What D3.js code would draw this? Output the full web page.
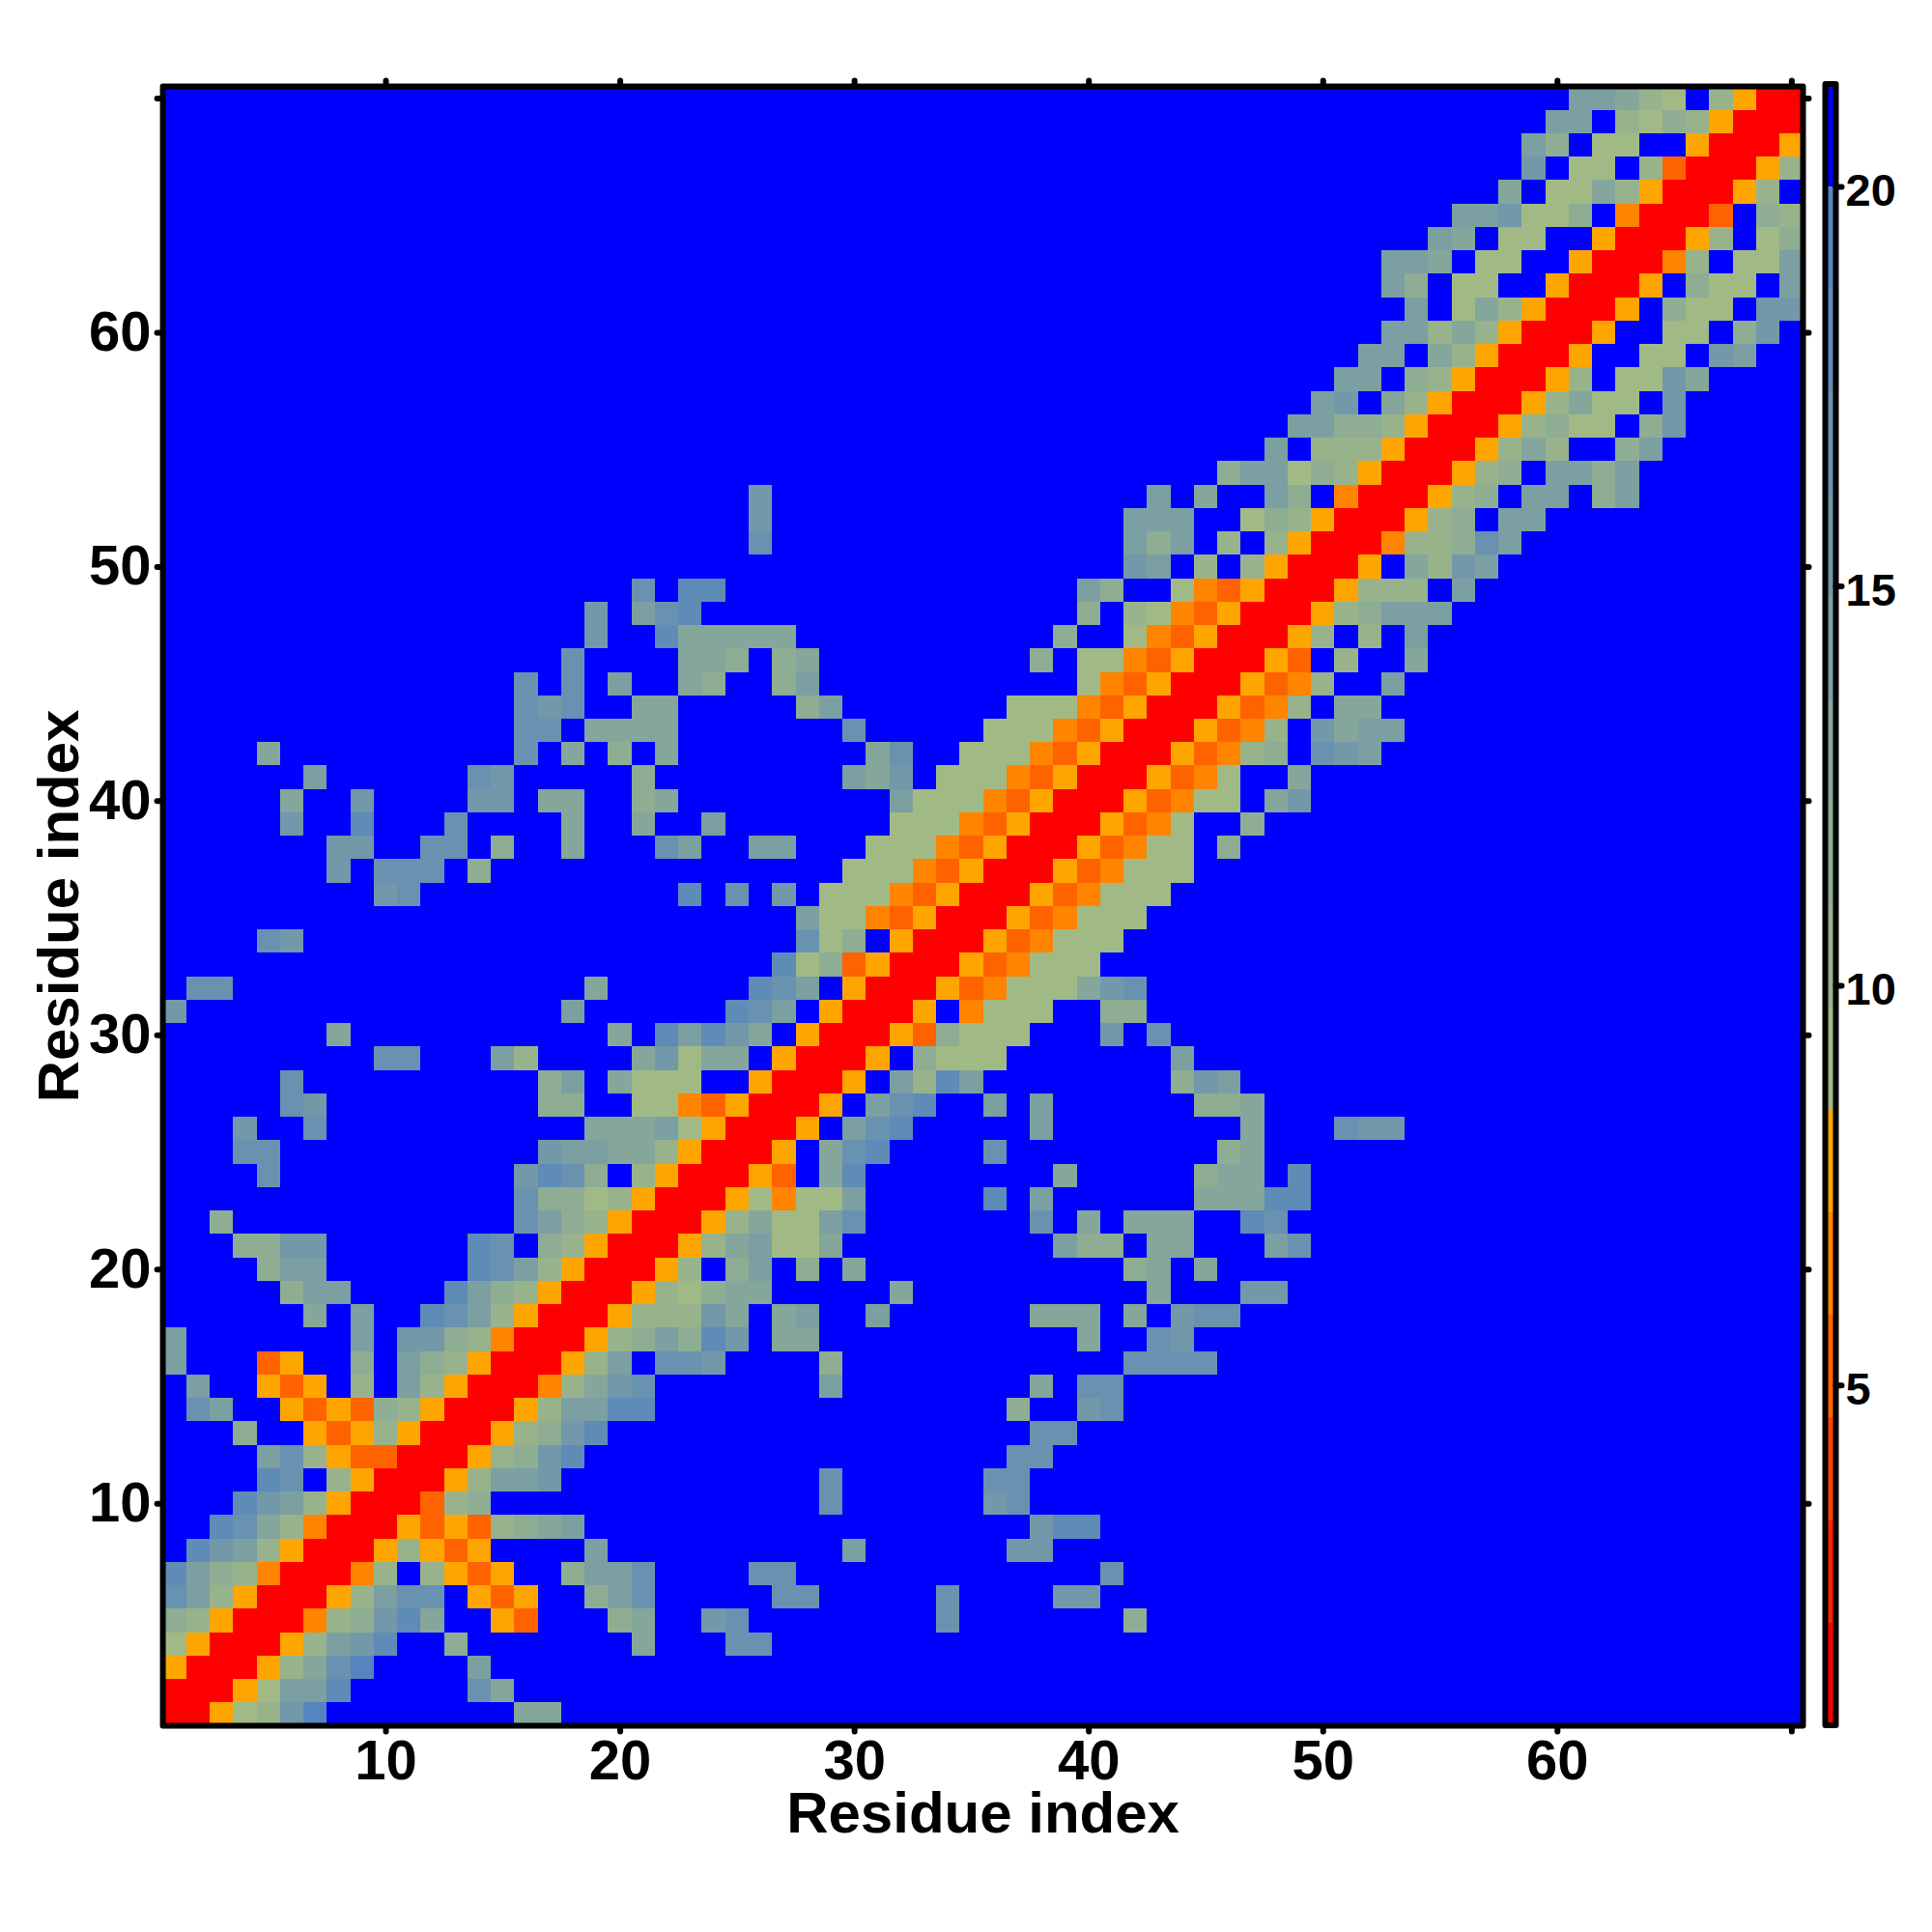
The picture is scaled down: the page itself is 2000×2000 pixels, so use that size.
<!DOCTYPE html>
<html>
<head>
<meta charset="utf-8">
<script src="https://cdn.jsdelivr.net/npm/d3@7"></script>
<style>
html,body{margin:0;padding:0;background:#fff}
svg{display:block}
text{font-family:"Liberation Sans",Arial,sans-serif;font-weight:bold;fill:#000}
</style>
</head>
<body>
<svg id="chart" width="2000" height="2000"></svg>
<script>
// Each row (bottom to top) lists "column:bands"; one hex digit per cell is its colour band
// (0 lowest distance ... e highest shown); any cell not listed is band f, the top band.
const rows01to10 = [
"1:00567be 16:99",
"1:00056aad 14:c9",
"1:5000579ce 14:a",
"1:6500057abd 13:8 21:9 25:cc",
"1:875000478bd9 15:53 20:89 24:bc 34:c 42:8",
"1:ca7500057acc 14:535 19:8ac 27:cc 34:c 39:bb",
"1:da87400047 12:7535 18:8aac 26:cc 41:c",
"2:dba7500057535 19:a 30:a 37:bb",
"3:dc9740005353789a 38:bdd",
"4:dba75000378 29:c 36:bc"
];
const rows11to20 = [
"5:dc 8:7500057aab 29:c 36:cc",
"5:ac7533000578bd 37:cc",
"4:8 7:53575000578bd 38:cc",
"2:ca 6:535387500057aadd 37:8 40:bc",
"2:a 5:535 9:7 11:a75000479bc 29:a 38:9 40:cc",
"1:a 5:35 9:8 11:a87500057a 22:ccb 29:8 42:cccc",
"1:a 9:a 11:bb874000578a8db 27:99 40:9 43:cb",
"7:9 9:a 12:dca750005777b9 27:9a 31:a 38:999 42:9 44:bcc",
"6:8aa 13:da875000576899 32:9 43:9 47:bb",
"5:8aa 14:dca7500057 25:8a 28:8 30:9 42:89 45:9"
];
const rows21to30 = [
"4:88bb 14:dc 17:875000579a669 39:a88 43:99 48:ac",
"3:8 16:ca87500057966ac 38:c 40:9 42:999 47:dc",
"16:c8867500056466a 36:d 38:a 45:999dd",
"5:c 16:bdc8 21:7500053 29:9d 39:9 45:899 49:d",
"4:cc 17:baa99750005 29:9cd 36:c 46:89",
"4:b 7:c 19:999a650005 30:acd 38:a 47:9 51:cbb",
"6:cb 17:88 21:664350005 31:acd 36:a 38:a 45:889",
"6:c 17:8a 20:9666 26:50005 32:a7da 44:8ba",
"10:cc 15:a7 21:9b699 27:50005 33:8666 44:a",
"8:9 20:9 22:dadb9 28:5000538666 41:b 43:c"
];
const rows31to40 = [
"1:b 18:a 25:dca 29:50005 35:4666 41:88",
"2:cc 19:9 26:dca 30:50005346669bc",
"27:d6835000534666",
"5:cb 28:c68 32:5000534666",
"28:a66435000534666",
"10:bc 23:d 25:c 27:b 29:666435000534666",
"8:b 10:ccc 14:8 30:666435000534666",
"8:bb 12:cc 15:8 18:9 22:ca 26:aa 31:66643500053466 46:8",
"6:b 9:d 13:c 18:9 21:9 24:a 32:6664350005346 47:8",
"6:9 9:b 14:bb 17:99 21:89 32:a66643500053466 48:9b"
];
const rows41to50 = [
"7:a 14:cb 21:8 30:a9b 34:6664350005346 49:9",
"5:9 16:c 18:9 20:8 22:9 31:9c 35:66643500053478 50:cba",
"16:cc 19:9999 30:c 36:6664350005347 50:b9aa",
"16:cbc 21:99 28:8a 37:6664350005347 51:99",
"16:c 18:c 20:a 23:98 27:8a 40:64350005347 53:a",
"18:c 23:998 27:89 38:8 40:6643500053 51:7 54:9",
"19:b 22:d99999 39:8 42:643500057 52:7 54:a",
"19:b 21:acd 40:8 42:76435000578aaa",
"21:c 23:dd 40:a8 44:64350005777 56:a",
"42:ba 45:7 47:750005 54:97ba"
];
const rows51to60 = [
"26:c 42:a8a 46:7 48:750004778ca",
"26:b 42:aaa 47:6875000578 58:aa",
"26:b 43:a 45:9 48:a8 51:4000578 59:aa 62:8a",
"46:8aa6875000578 60:aa8a",
"48:a 50:77750005797 63:8a",
"49:aa887500057866 64:8b",
"50:ab 53:97500057966 65:b",
"51:aa 54:87500057 63:66b9",
"52:aa 55:9750005 64:66 67:ba",
"53:aa79750005 65:66 68:8b"
];
const rows61to70 = [
"54:a 56:69750005 65:866 69:bb",
"53:a8 56:66 60:50005 66:866 70:a",
"53:aa9 57:66 61:500047 68:66a",
"55:a9 58:66 62:500057 69:68",
"56:aab668 63:40003 69:87",
"58:9 60:6697500057",
"59:b 61:66 64:7300057",
"59:a8 62:66 66:50005",
"60:aa 63:76875000",
"61:aa976 67:7500"
];

const bandColors = ["#ff0000","#ff2100","#ff4200","#ff6300","#ff8400","#ffa500",
  "#a1ba85","#98b38c","#8ead93","#85a69a","#7c9fa2","#7298a9","#6992b0","#5f8bb7","#5684be","#0000ff"];
const bandValues = [1.38,2.67,3.95,5.23,6.52,7.8,9.09,10.37,11.65,12.94,14.22,15.5,16.79,18.07,19.36,20.64];
const valueExtent = [0.74,21.28];
const xTicks = [10,20,30,40,50,60,70];
const tickLabels = [10,20,30,40,50,60];
const colorbarTicks = [5,10,15,20];
const axisTitle = "Residue index";

const n = 70;
const allRows = [].concat(rows01to10,rows11to20,rows21to30,rows31to40,rows41to50,rows51to60,rows61to70);
const cells = [];
allRows.forEach((spec,r)=>{
  const line = new Array(n).fill(15);
  spec.split(" ").forEach(seg=>{
    const [start,digits] = seg.split(":");
    [...digits].forEach((ch,k)=>{ line[+start-1+k] = parseInt(ch,16); });
  });
  line.forEach((band,c)=>cells.push({x:c+1,y:r+1,value:bandValues[band]}));
});

const svg = d3.select("#chart");
const pL=168.6,pR=1866.5,pT=89.4,pB=1786.5;
const x = d3.scaleLinear().domain([0.5,70.5]).range([pL,pR]);
const y = d3.scaleLinear().domain([0.5,70.5]).range([pB,pT]);
const color = d3.scaleQuantize().domain(valueExtent).range(bandColors);

svg.append("g").attr("shape-rendering","crispEdges").selectAll("rect").data(cells).join("rect")
  .attr("x",d=>x(d.x-0.5)).attr("y",d=>y(d.y+0.5))
  .attr("width",x(1.5)-x(0.5)).attr("height",y(0.5)-y(1.5))
  .attr("fill",d=>color(d.value));

const SW = 6;
function styleAxis(g,fontSize){
  g.select(".domain").remove();
  g.selectAll(".tick line").attr("stroke","#000").attr("stroke-width",SW).attr("stroke-linecap","round");
  g.selectAll(".tick text").attr("font-size",fontSize).attr("fill","#000");
}
const labelFmt = d=>tickLabels.includes(d)?d:"";
svg.append("g").attr("transform",`translate(0,${pB})`)
  .call(d3.axisBottom(x).tickValues(xTicks).tickFormat(labelFmt).tickSize(6).tickPadding(8)).call(styleAxis,58);
svg.append("g").attr("transform",`translate(${pL},0)`)
  .call(d3.axisLeft(y).tickValues(xTicks).tickFormat(labelFmt).tickSize(6).tickPadding(6)).call(styleAxis,58);
svg.append("g").attr("transform",`translate(0,${pT})`)
  .call(d3.axisTop(x).tickValues(xTicks).tickFormat("").tickSize(6)).call(styleAxis,58);
svg.append("g").attr("transform",`translate(${pR},0)`)
  .call(d3.axisRight(y).tickValues(xTicks).tickFormat("").tickSize(6)).call(styleAxis,58);

svg.append("rect").attr("x",pL).attr("y",pT).attr("width",pR-pL).attr("height",pB-pT)
  .attr("fill","none").attr("stroke","#000").attr("stroke-width",SW).attr("stroke-linejoin","round");

svg.append("text").attr("x",(pL+pR)/2).attr("y",1897).attr("text-anchor","middle").attr("font-size",60).text(axisTitle);
svg.append("text").attr("transform",`translate(81,${(pT+pB)/2}) rotate(-90)`).attr("text-anchor","middle").attr("font-size",60).text(axisTitle);

// colour bar
const cbL=1889.5,cbR=1900.5,cbT=87,cbB=1786;
const cy = d3.scaleLinear().domain(valueExtent).range([cbB,cbT]);
const edges = [valueExtent[0],...color.thresholds(),valueExtent[1]];
svg.append("g").attr("shape-rendering","crispEdges").selectAll("rect").data(bandColors).join("rect")
  .attr("x",cbL).attr("width",cbR-cbL)
  .attr("y",(d,i)=>cy(edges[i+1])).attr("height",(d,i)=>cy(edges[i])-cy(edges[i+1]))
  .attr("fill",d=>d);
svg.append("g").attr("transform",`translate(${cbR},0)`)
  .call(d3.axisRight(cy).tickValues(colorbarTicks).tickSize(6).tickPadding(4)).call(styleAxis,47)
  .call(g=>g.selectAll(".tick text").attr("dy","0.42em"));
svg.append("rect").attr("x",cbL).attr("y",cbT).attr("width",cbR-cbL).attr("height",cbB-cbT)
  .attr("fill","none").attr("stroke","#000").attr("stroke-width",SW).attr("stroke-linejoin","round");
</script>
</body>
</html>
